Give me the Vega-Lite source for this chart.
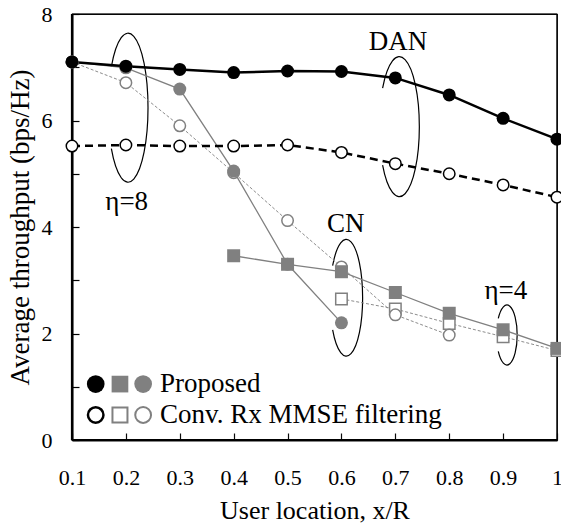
{
  "$schema": "https://vega.github.io/schema/vega-lite/v6.json",
  "width": 485,
  "height": 426,
  "autosize": "none",
  "padding": {"left": 72, "top": 14, "right": 4, "bottom": 84},
  "background": "white",
  "config": {
    "view": {"stroke": "#0a0a0a", "strokeWidth": 1.2}
  },
  "datasets": {
    "frame": [
      {"side": "bottom", "x": 0.1, "x2": 1, "y": 0, "y2": 0},
      {"side": "left", "x": 0.1, "x2": 0.1, "y": 0, "y2": 8},
      {"side": "top", "x": 0.1, "x2": 1, "y": 8, "y2": 8},
      {"side": "right", "x": 1, "x2": 1, "y": 0, "y2": 8}
    ],
    "series": [
      {"s": "DAN_P", "x": 0.1, "y": 7.10}, {"s": "DAN_P", "x": 0.2, "y": 7.02}, {"s": "DAN_P", "x": 0.3, "y": 6.96}, {"s": "DAN_P", "x": 0.4, "y": 6.90}, {"s": "DAN_P", "x": 0.5, "y": 6.93}, {"s": "DAN_P", "x": 0.6, "y": 6.92}, {"s": "DAN_P", "x": 0.7, "y": 6.80}, {"s": "DAN_P", "x": 0.8, "y": 6.48}, {"s": "DAN_P", "x": 0.9, "y": 6.04}, {"s": "DAN_P", "x": 1.0, "y": 5.65},
      {"s": "DAN_C", "x": 0.1, "y": 5.52}, {"s": "DAN_C", "x": 0.2, "y": 5.54}, {"s": "DAN_C", "x": 0.3, "y": 5.52}, {"s": "DAN_C", "x": 0.4, "y": 5.52}, {"s": "DAN_C", "x": 0.5, "y": 5.54}, {"s": "DAN_C", "x": 0.6, "y": 5.40}, {"s": "DAN_C", "x": 0.7, "y": 5.19}, {"s": "DAN_C", "x": 0.8, "y": 5.00}, {"s": "DAN_C", "x": 0.9, "y": 4.79}, {"s": "DAN_C", "x": 1.0, "y": 4.56},
      {"s": "CN8_P", "x": 0.1, "y": 7.10}, {"s": "CN8_P", "x": 0.2, "y": 6.99}, {"s": "CN8_P", "x": 0.3, "y": 6.59}, {"s": "CN8_P", "x": 0.4, "y": 5.05}, {"s": "CN8_P", "x": 0.5, "y": 3.30}, {"s": "CN8_P", "x": 0.6, "y": 2.20},
      {"s": "CN8_C", "x": 0.1, "y": 7.10}, {"s": "CN8_C", "x": 0.2, "y": 6.71}, {"s": "CN8_C", "x": 0.3, "y": 5.90}, {"s": "CN8_C", "x": 0.4, "y": 5.02}, {"s": "CN8_C", "x": 0.5, "y": 4.12}, {"s": "CN8_C", "x": 0.6, "y": 3.25}, {"s": "CN8_C", "x": 0.7, "y": 2.35}, {"s": "CN8_C", "x": 0.8, "y": 1.97},
      {"s": "CN4_P", "x": 0.4, "y": 3.46}, {"s": "CN4_P", "x": 0.5, "y": 3.30}, {"s": "CN4_P", "x": 0.6, "y": 3.16}, {"s": "CN4_P", "x": 0.7, "y": 2.77}, {"s": "CN4_P", "x": 0.8, "y": 2.38}, {"s": "CN4_P", "x": 0.9, "y": 2.07}, {"s": "CN4_P", "x": 1.0, "y": 1.72},
      {"s": "CN4_C", "x": 0.6, "y": 2.65}, {"s": "CN4_C", "x": 0.7, "y": 2.46}, {"s": "CN4_C", "x": 0.8, "y": 2.19}, {"s": "CN4_C", "x": 0.9, "y": 1.94}, {"s": "CN4_C", "x": 1.0, "y": 1.68}
    ],
    "ellipses": [
      {"id": "eta8", "x": 0.204, "y": 6.24},
      {"id": "dan", "x": 0.7074, "y": 5.884},
      {"id": "cn", "x": 0.609, "y": 2.672},
      {"id": "eta4", "x": 0.907, "y": 1.972}
    ],
    "notes": [
      {"label": "DAN", "x": 0.705, "y": 7.32},
      {"label": "CN", "x": 0.608, "y": 3.91},
      {"label": "η=4", "x": 0.905, "y": 2.64},
      {"label": "η=8", "x": 0.2015, "y": 4.32}
    ],
    "legendSymbols": [
      {"k": "DAN_P", "x": 0.144, "y": 1.05}, {"k": "CN4_P", "x": 0.189, "y": 1.05}, {"k": "CN8_P", "x": 0.232, "y": 1.05},
      {"k": "DAN_C", "x": 0.144, "y": 0.47}, {"k": "CN4_C", "x": 0.189, "y": 0.47}, {"k": "CN8_C", "x": 0.232, "y": 0.47}
    ],
    "legendText": [
      {"label": "Proposed", "x": 0.2633, "y": 1.05},
      {"label": "Conv. Rx MMSE filtering", "x": 0.2633, "y": 0.47}
    ]
  },
  "encoding": {
    "x": {
      "field": "x", "type": "quantitative",
      "scale": {"domain": [0.1, 1], "nice": false, "zero": false},
      "axis": {
        "grid": false,
        "domainColor": "#0a0a0a", "domainWidth": 2,
        "tickColor": "#0a0a0a", "tickWidth": 1.2, "tickSize": -7,
        "values": [0.1, 0.2, 0.3, 0.4, 0.5, 0.6, 0.7, 0.8, 0.9, 1],
        "format": "~g",
        "labelFont": "Liberation Serif", "labelFontSize": 22, "labelColor": "black",
        "labelFlush": false,
        "labelPadding": 34,
        "title": "User location, x/R",
        "titleFont": "Liberation Serif", "titleFontSize": 26, "titleFontWeight": "normal", "titleColor": "black",
        "titleX": 242.5, "titleY": 78, "titleBaseline": "alphabetic", "titleAlign": "center"
      }
    },
    "y": {
      "field": "y", "type": "quantitative",
      "scale": {"domain": [0, 8], "nice": false, "zero": false},
      "axis": {
        "grid": false,
        "domainColor": "black", "domainWidth": 2,
        "tickColor": "black", "tickWidth": 1.2, "tickSize": -7,
        "values": [0, 1, 2, 3, 4, 5, 6, 7, 8],
        "labelExpr": "datum.value % 2 == 0 ? datum.label : ''",
        "labelFont": "Liberation Serif", "labelFontSize": 22, "labelColor": "black",
        "labelFlush": false,
        "labelPadding": 27,
        "title": "Average throughput (bps/Hz)",
        "titleFont": "Liberation Serif", "titleFontSize": 27, "titleFontWeight": "normal", "titleColor": "black",
        "titleX": -52, "titleY": 213, "titleAngle": -90, "titleBaseline": "middle", "titleAlign": "center"
      }
    }
  },
  "layer": [
    {"data": {"name": "frame"}, "transform": [{"filter": "datum.side == 'bottom' || datum.side == 'left'"}],
     "mark": {"type": "rule", "color": "black", "strokeWidth": 2.2},
     "encoding": {"x2": {"field": "x2"}, "y2": {"field": "y2"}}},
    {"data": {"name": "frame"}, "transform": [{"filter": "datum.side == 'top' || datum.side == 'right'"}],
     "mark": {"type": "rule", "color": "black", "strokeWidth": 1.2},
     "encoding": {"x2": {"field": "x2"}, "y2": {"field": "y2"}}},

    {"data": {"name": "ellipses"}, "transform": [{"filter": "datum.id == 'eta8'"}],
     "mark": {"type": "point", "shape": "M-0.2238,-0.55C-0.1587,-0.9191,-0.0365,-1.0848,0.0769,-0.9579C0.1904,-0.831,0.268,-0.4419,0.268,0C0.268,0.4419,0.1904,0.831,0.0769,0.9579C-0.0365,1.0848,-0.1587,0.9191,-0.2238,0.55", "size": 22201, "filled": false, "stroke": "black", "strokeWidth": 1.2, "opacity": 1}},
    {"data": {"name": "ellipses"}, "transform": [{"filter": "datum.id == 'dan'"}],
     "mark": {"type": "point", "shape": "M-0.2389,-0.55C-0.1694,-0.9191,-0.039,-1.0848,0.0821,-0.9579C0.2032,-0.831,0.286,-0.4419,0.286,0C0.286,0.4419,0.2032,0.831,0.0821,0.9579C-0.039,1.0848,-0.1694,0.9191,-0.2389,0.55", "size": 19600, "filled": false, "stroke": "black", "strokeWidth": 1.2, "opacity": 1}},
    {"data": {"name": "ellipses"}, "transform": [{"filter": "datum.id == 'cn'"}],
     "mark": {"type": "point", "shape": "M-0.2339,-0.55C-0.1658,-0.9191,-0.0381,-1.0848,0.0804,-0.9579C0.1989,-0.831,0.28,-0.4419,0.28,0C0.28,0.4419,0.1989,0.831,0.0804,0.9579C-0.0381,1.0848,-0.1658,0.9191,-0.2339,0.55", "size": 13619, "filled": false, "stroke": "black", "strokeWidth": 1.2, "opacity": 1}},
    {"data": {"name": "ellipses"}, "transform": [{"filter": "datum.id == 'eta4'"}],
     "mark": {"type": "point", "shape": "M-0.2865,-0.55C-0.2031,-0.9191,-0.0467,-1.0848,0.0985,-0.9579C0.2437,-0.831,0.343,-0.4419,0.343,0C0.343,0.4419,0.2437,0.831,0.0985,0.9579C-0.0467,1.0848,-0.2031,0.9191,-0.2865,0.55", "size": 3600, "filled": false, "stroke": "black", "strokeWidth": 1.2, "opacity": 1}},

    {"data": {"name": "series"}, "transform": [{"filter": "datum.s == 'CN8_C'"}],
     "mark": {"type": "line", "color": "#8c8c8c", "strokeWidth": 1, "strokeDash": [3, 2]}},
    {"data": {"name": "series"}, "transform": [{"filter": "datum.s == 'CN4_C'"}],
     "mark": {"type": "line", "color": "#8c8c8c", "strokeWidth": 1, "strokeDash": [3, 2]}},
    {"data": {"name": "series"}, "transform": [{"filter": "datum.s == 'CN8_P'"}],
     "mark": {"type": "line", "color": "#808080", "strokeWidth": 1.3}},
    {"data": {"name": "series"}, "transform": [{"filter": "datum.s == 'CN4_P'"}],
     "mark": {"type": "line", "color": "#808080", "strokeWidth": 1.3}},
    {"data": {"name": "series"}, "transform": [{"filter": "datum.s == 'DAN_C'"}],
     "mark": {"type": "line", "color": "black", "strokeWidth": 2.5, "strokeDash": [8, 5]}},
    {"data": {"name": "series"}, "transform": [{"filter": "datum.s == 'DAN_P'"}],
     "mark": {"type": "line", "color": "black", "strokeWidth": 2.5}},

    {"data": {"name": "series"}, "transform": [{"filter": "datum.s == 'CN4_C'"}],
     "mark": {"type": "point", "shape": "square", "size": 132, "filled": true, "fill": "white", "stroke": "#808080", "strokeWidth": 1.5, "opacity": 1}},
    {"data": {"name": "series"}, "transform": [{"filter": "datum.s == 'CN8_C'"}],
     "mark": {"type": "point", "shape": "circle", "size": 132, "filled": true, "fill": "white", "stroke": "#808080", "strokeWidth": 1.5, "opacity": 1}},
    {"data": {"name": "series"}, "transform": [{"filter": "datum.s == 'CN8_P'"}],
     "mark": {"type": "point", "shape": "circle", "size": 169, "filled": true, "fill": "#808080", "strokeWidth": 0, "opacity": 1}},
    {"data": {"name": "series"}, "transform": [{"filter": "datum.s == 'CN4_P'"}],
     "mark": {"type": "point", "shape": "square", "size": 169, "filled": true, "fill": "#808080", "strokeWidth": 0, "opacity": 1}},
    {"data": {"name": "series"}, "transform": [{"filter": "datum.s == 'DAN_C'"}],
     "mark": {"type": "point", "shape": "circle", "size": 132, "filled": true, "fill": "white", "stroke": "black", "strokeWidth": 1.5, "opacity": 1}},
    {"data": {"name": "series"}, "transform": [{"filter": "datum.s == 'DAN_P'"}],
     "mark": {"type": "point", "shape": "circle", "size": 169, "filled": true, "fill": "black", "strokeWidth": 0, "opacity": 1}},

    {"data": {"name": "legendSymbols"}, "transform": [{"filter": "datum.k == 'DAN_P'"}],
     "mark": {"type": "point", "shape": "circle", "size": 313, "filled": true, "fill": "black", "strokeWidth": 0, "opacity": 1}},
    {"data": {"name": "legendSymbols"}, "transform": [{"filter": "datum.k == 'CN4_P'"}],
     "mark": {"type": "point", "shape": "square", "size": 279, "filled": true, "fill": "#808080", "strokeWidth": 0, "opacity": 1}},
    {"data": {"name": "legendSymbols"}, "transform": [{"filter": "datum.k == 'CN8_P'"}],
     "mark": {"type": "point", "shape": "circle", "size": 313, "filled": true, "fill": "#808080", "strokeWidth": 0, "opacity": 1}},
    {"data": {"name": "legendSymbols"}, "transform": [{"filter": "datum.k == 'DAN_C'"}],
     "mark": {"type": "point", "shape": "circle", "size": 240, "filled": true, "fill": "white", "stroke": "black", "strokeWidth": 2.5, "opacity": 1}},
    {"data": {"name": "legendSymbols"}, "transform": [{"filter": "datum.k == 'CN4_C'"}],
     "mark": {"type": "point", "shape": "square", "size": 225, "filled": true, "fill": "white", "stroke": "#808080", "strokeWidth": 2, "opacity": 1}},
    {"data": {"name": "legendSymbols"}, "transform": [{"filter": "datum.k == 'CN8_C'"}],
     "mark": {"type": "point", "shape": "circle", "size": 250, "filled": true, "fill": "white", "stroke": "#808080", "strokeWidth": 2, "opacity": 1}},

    {"data": {"name": "notes"},
     "mark": {"type": "text", "font": "Liberation Serif", "fontSize": 27, "align": "center", "baseline": "alphabetic", "color": "black"},
     "encoding": {"text": {"field": "label"}}},
    {"data": {"name": "legendText"},
     "mark": {"type": "text", "font": "Liberation Serif", "fontSize": 27, "align": "left", "baseline": "middle", "color": "black"},
     "encoding": {"text": {"field": "label"}}}
  ]
}
